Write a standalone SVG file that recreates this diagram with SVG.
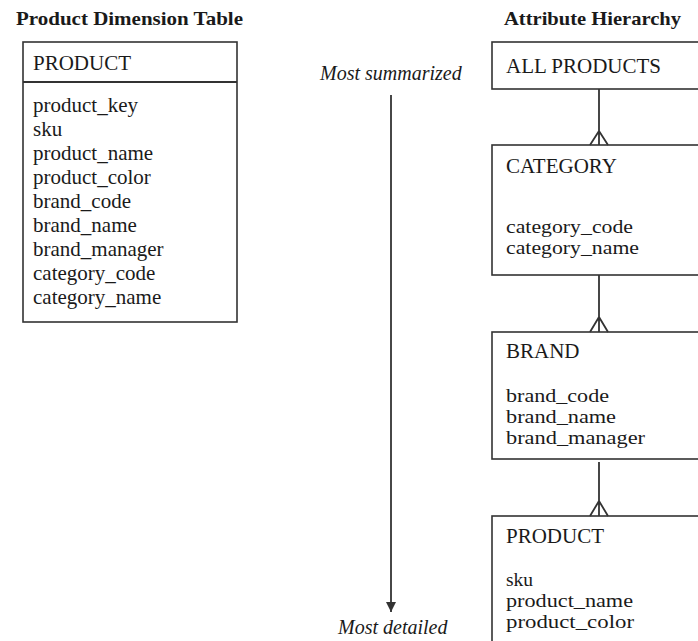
<svg xmlns="http://www.w3.org/2000/svg" width="698" height="641" viewBox="0 0 698 641">
<style>
.box{fill:#fff;stroke:#333;stroke-width:1.6}
.t{font-family:"Liberation Serif","Times New Roman",serif;font-size:21px;fill:#1a1a1a}
.r{font-family:"Liberation Serif","Times New Roman",serif;font-size:19.5px;fill:#1a1a1a}
.h{font-family:"Liberation Serif","Times New Roman",serif;font-size:19px;font-weight:bold;fill:#1a1a1a}
.i{font-family:"Liberation Serif","Times New Roman",serif;font-size:20px;font-style:italic;fill:#1a1a1a}
.ln{stroke:#333;stroke-width:1.8;fill:none}
</style>
<defs>
<marker id="ah" viewBox="0 0 10 10" refX="10" refY="5" markerWidth="10" markerHeight="10" markerUnits="userSpaceOnUse" orient="auto">
<path d="M0,0 L10,5 L0,10 Z" fill="#333"/>
</marker>
</defs>
<rect width="698" height="641" fill="#fff"/>
<text class="h" x="16" y="25" textLength="227" lengthAdjust="spacingAndGlyphs">Product Dimension Table</text>
<text class="h" x="504" y="25" textLength="177" lengthAdjust="spacingAndGlyphs">Attribute Hierarchy</text>

<g id="dim-product">
<rect class="box" x="23" y="42" width="214" height="280"/>
<line class="ln" x1="23" y1="82" x2="237" y2="82" stroke-width="1.6"/>
<text class="t" x="33" y="70">PRODUCT</text>
<text class="t" x="33" y="112">product_key</text>
<text class="t" x="33" y="136">sku</text>
<text class="t" x="33" y="160">product_name</text>
<text class="t" x="33" y="184">product_color</text>
<text class="t" x="33" y="208">brand_code</text>
<text class="t" x="33" y="232">brand_name</text>
<text class="t" x="33" y="256">brand_manager</text>
<text class="t" x="33" y="280">category_code</text>
<text class="t" x="33" y="304">category_name</text>
</g>

<g id="scale">
<line class="ln" x1="391" y1="95" x2="391" y2="612" marker-end="url(#ah)" stroke-width="1.6"/>
<text class="i" x="320" y="80">Most summarized</text>
<text class="i" x="338" y="634">Most detailed</text>
</g>

<g id="all-products">
<rect class="box" x="492" y="42" width="230" height="47"/>
<text class="t" x="506" y="73">ALL PRODUCTS</text>
</g>

<g id="category">
<rect class="box" x="492" y="145" width="230" height="130"/>
<text class="t" x="506" y="173">CATEGORY</text>
<text class="r" x="506" y="233" textLength="127" lengthAdjust="spacingAndGlyphs">category_code</text>
<text class="r" x="506" y="254" textLength="133" lengthAdjust="spacingAndGlyphs">category_name</text>
</g>

<g id="brand">
<rect class="box" x="492" y="332" width="230" height="127"/>
<text class="t" x="506" y="358">BRAND</text>
<text class="r" x="506" y="402" textLength="103" lengthAdjust="spacingAndGlyphs">brand_code</text>
<text class="r" x="506" y="423" textLength="110" lengthAdjust="spacingAndGlyphs">brand_name</text>
<text class="r" x="506" y="444" textLength="139" lengthAdjust="spacingAndGlyphs">brand_manager</text>
</g>

<g id="product">
<rect class="box" x="492" y="516" width="230" height="140"/>
<text class="t" x="506" y="543">PRODUCT</text>
<text class="r" x="506" y="586">sku</text>
<text class="r" x="506" y="607" textLength="127" lengthAdjust="spacingAndGlyphs">product_name</text>
<text class="r" x="506" y="628" textLength="128" lengthAdjust="spacingAndGlyphs">product_color</text>
</g>

<g id="connectors">
<path class="ln" d="M599,89 V145 M599,131 L590,145 M599,131 L608,145"/>
<path class="ln" d="M599,275 V332 M599,317 L590,332 M599,317 L608,332"/>
<path class="ln" d="M599,462 V516 M599,501 L590,516 M599,501 L608,516"/>
</g>
</svg>
